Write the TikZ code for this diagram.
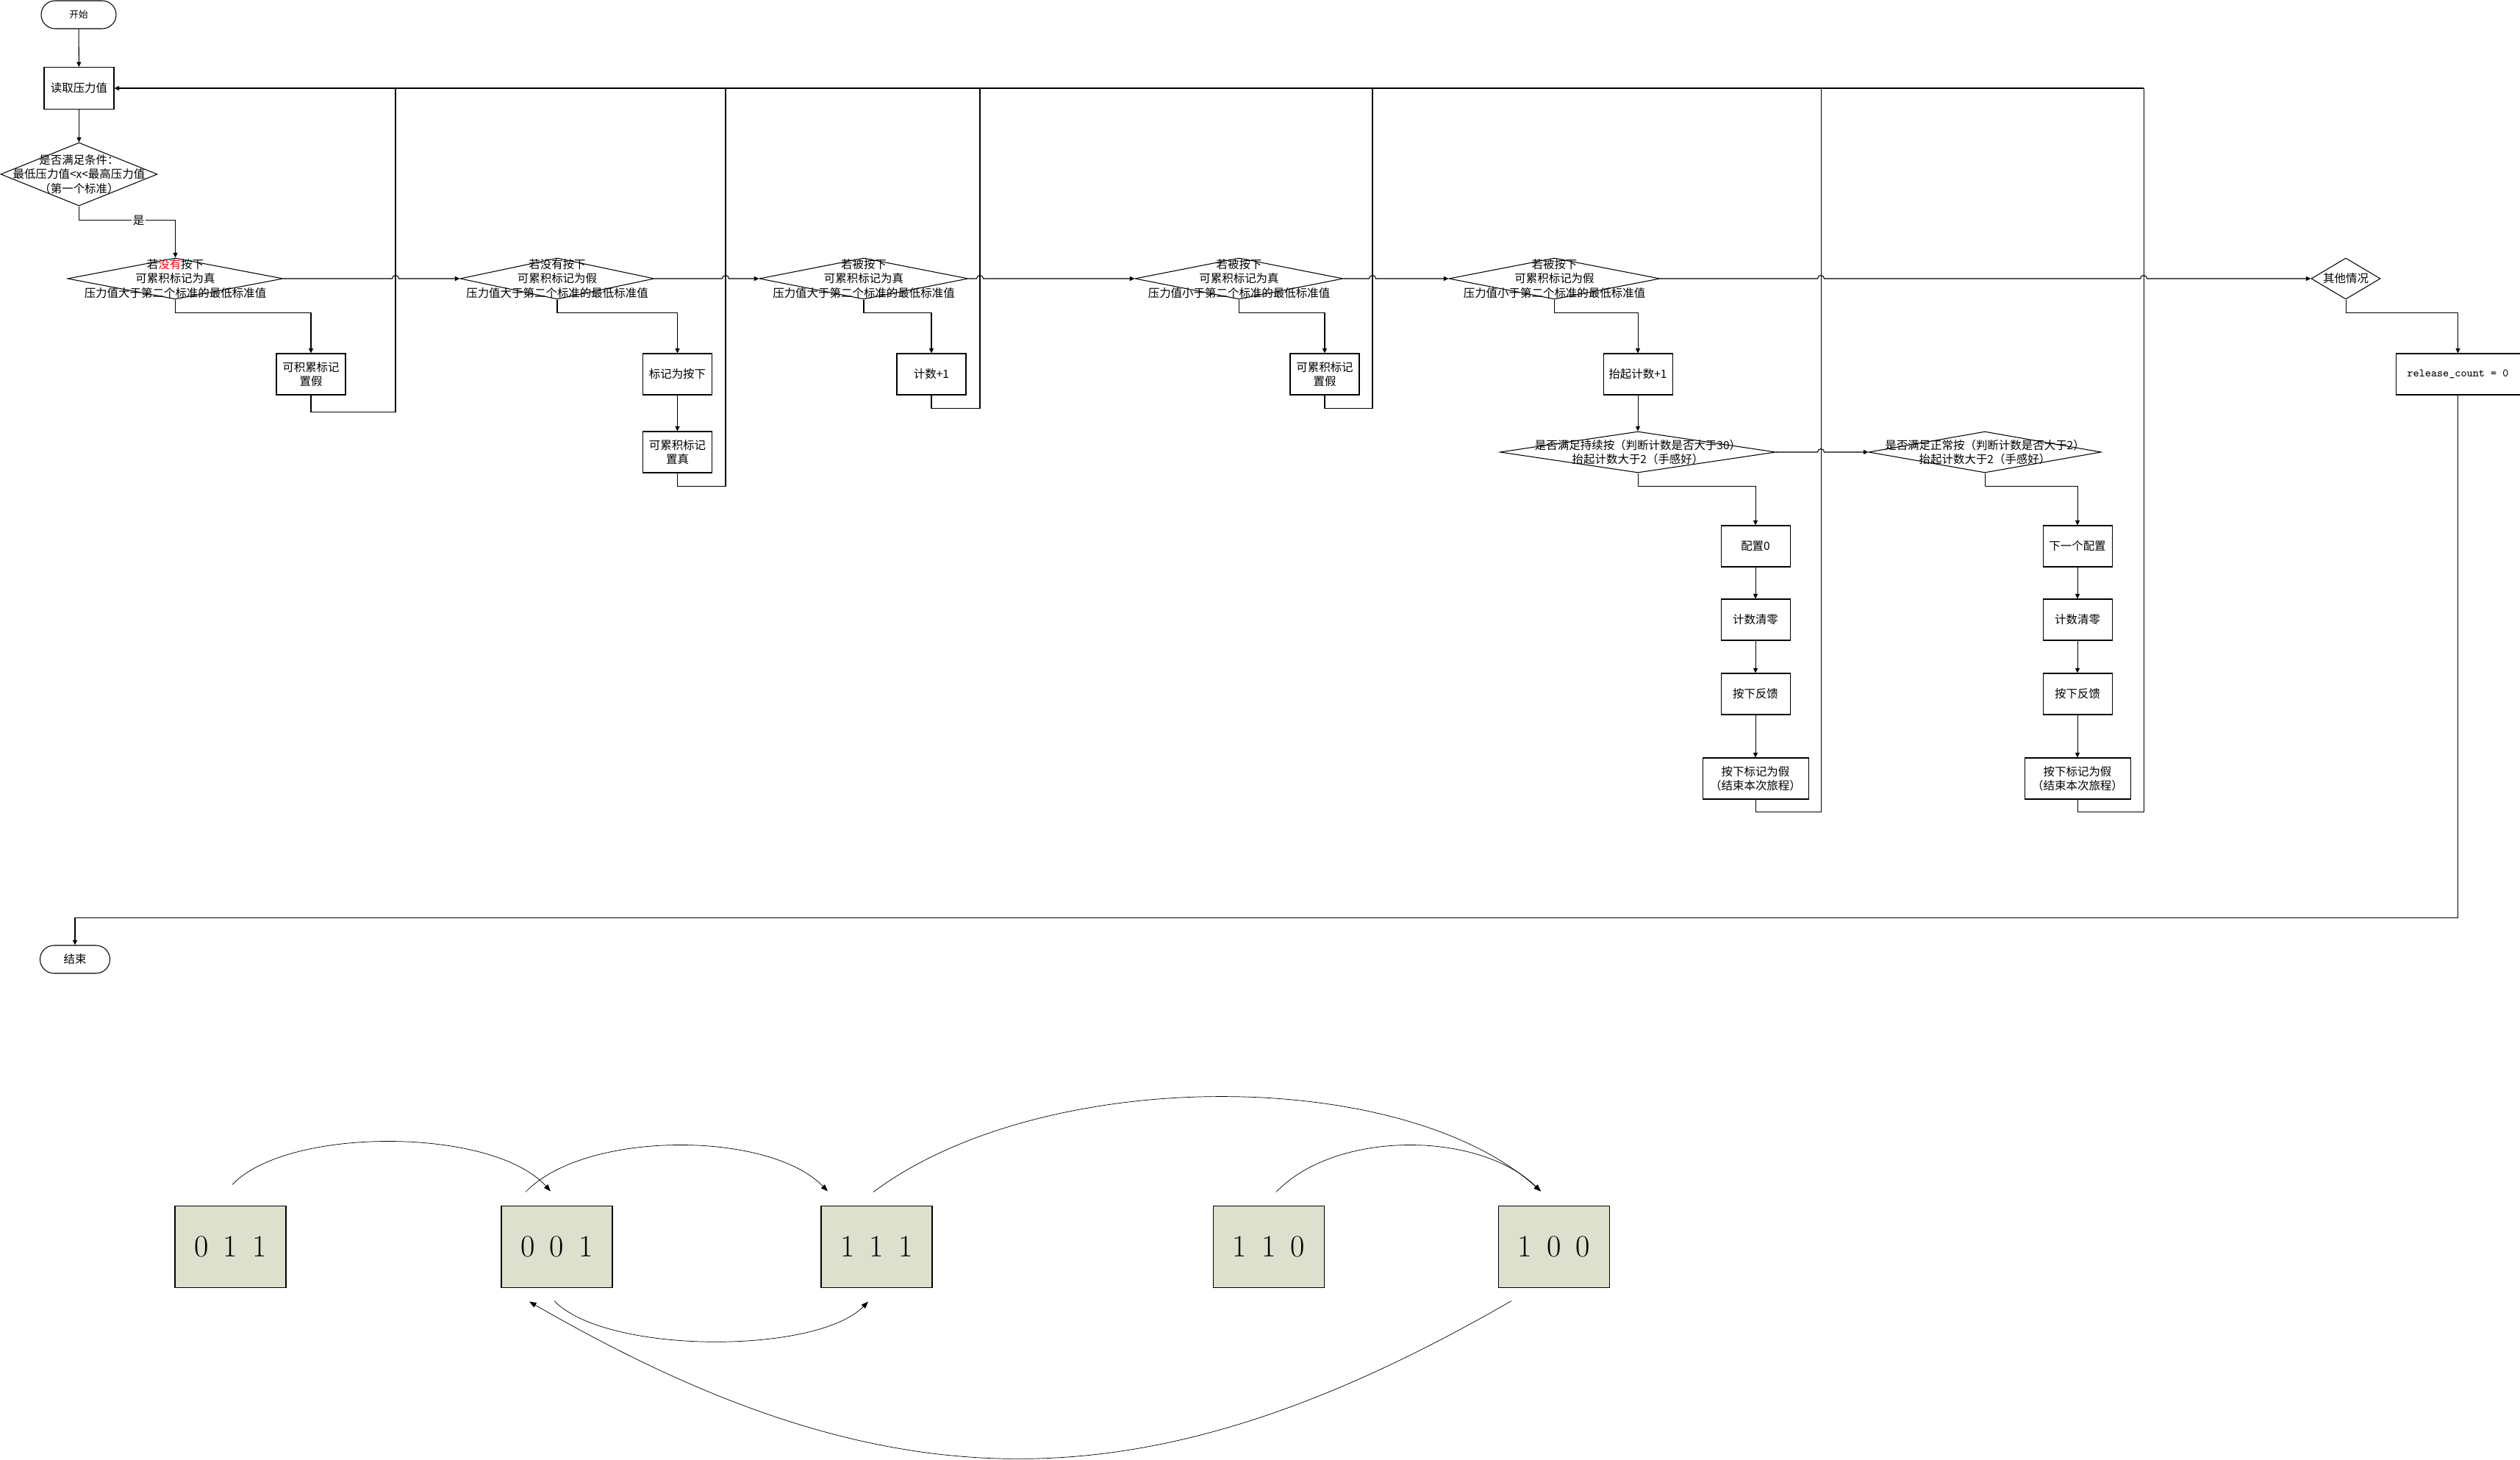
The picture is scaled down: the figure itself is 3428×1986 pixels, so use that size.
\documentclass[tikz,border=0pt]{standalone}
\usepackage{fontspec}
\newfontfamily\cjk{Noto Sans CJK SC}
\usetikzlibrary{positioning, calc, arrows.meta, shapes.geometric}
\definecolor{bitfill}{RGB}{221,224,204}
\newcommand{\bits}[3]{#1\hspace{4mm}#2\hspace{4mm}#3}
\tikzset{every picture/.append style={line width=0.6pt}}
\tikzset{
  cjktext/.style={font=\cjk\fontsize{8.8pt}{11pt}\selectfont},
  proc/.style={draw, rectangle, cjktext, align=center, minimum width=18.8mm, minimum height=11.2mm, inner sep=1pt},
  term/.style={draw, rectangle, rounded corners=3.8mm, cjktext, minimum width=19mm, minimum height=7.6mm},
  dec/.style={draw, diamond, inner sep=0pt, minimum width=#1, minimum height=11.2mm},
  dtext/.style={cjktext, align=center},
  flow/.style={-{Triangle[length=1.3mm, width=1.2mm]}},
  bitbox/.style={draw, fill=bitfill, minimum width=30.2mm, minimum height=22.2mm, font=\fontsize{24pt}{28pt}\selectfont},
  trans/.style={line width=0.4pt, -{Triangle[length=1.9mm, width=1.4mm]}},
}

\begin{document}
\begin{tikzpicture}[x=0.2mm, y=0.2mm]
  \useasboundingbox (0,0) rectangle (3428,-1986);

  % Start and first test
  \node[term, font=\cjk\fontsize{7.2pt}{9pt}\selectfont, minimum width=20.4mm] (start) at (107,-20) {开始};
  \node[proc, minimum width=19mm, minimum height=11.4mm] (read) at (107.5,-120) {读取压力值};
  \node[dec=42.6mm, minimum height=17.2mm, label={[dtext]center:是否满足条件：\\最低压力值<x<最高压力值\\（第一个标准）}] (d1) at (107.5,-237) {};

  % Chain of decisions
  \node[dec=58.6mm, label={[dtext]center:若{\color{red}没有}按下\\可累积标记为真\\压力值大于第二个标准的最低标准值}] (d2) at (238.5,-379) {};
  \node[dec=52.8mm, label={[dtext]center:若没有按下\\可累积标记为假\\压力值大于第二个标准的最低标准值}] (d3) at (758,-379) {};
  \node[dec=56.8mm, label={[dtext]center:若被按下\\可累积标记为真\\压力值大于第二个标准的最低标准值}] (d4) at (1175,-379) {};
  \node[dec=56.6mm, label={[dtext]center:若被按下\\可累积标记为真\\压力值小于第二个标准的最低标准值}] (d5) at (1685.5,-379) {};
  \node[dec=57.4mm, label={[dtext]center:若被按下\\可累积标记为假\\压力值小于第二个标准的最低标准值}] (d6) at (2114.5,-379) {};
  \node[dec=18.8mm, label={[dtext]center:其他情况}] (d9) at (3191,-379) {};

  % Actions under each decision
  \node[proc] (a1) at (423,-509) {可积累标记\\置假};
  \node[proc] (b1) at (921.5,-509) {标记为按下};
  \node[proc] (b2) at (921.5,-615) {可累积标记\\置真};
  \node[proc] (c1) at (1267,-509) {计数+1};
  \node[proc] (e1) at (1802,-509) {可累积标记\\置假};
  \node[proc] (f1) at (2228,-509) {抬起计数+1};
  \node[proc, minimum width=33.8mm, font=\ttfamily\fontsize{8.8pt}{11pt}\selectfont] (rel) at (3343.5,-509) {release\_count = 0};

  % Release tests
  \node[dec=75mm, label={[dtext]center:是否满足持续按（判断计数是否大于30）\\抬起计数大于2（手感好）}] (d7) at (2228,-615) {};
  \node[dec=63.2mm, label={[dtext]center:是否满足正常按（判断计数是否大于2）\\抬起计数大于2（手感好）}] (d8) at (2700,-615) {};

  \node[proc] (g1) at (2388,-743) {配置0};
  \node[proc] (g2) at (2388,-843) {计数清零};
  \node[proc] (g3) at (2388,-944) {按下反馈};
  \node[proc, minimum width=28.8mm] (g4) at (2388,-1059) {按下标记为假\\（结束本次旅程）};
  \node[proc] (h1) at (2826,-743) {下一个配置};
  \node[proc] (h2) at (2826,-843) {计数清零};
  \node[proc] (h3) at (2826,-944) {按下反馈};
  \node[proc, minimum width=28.8mm] (h4) at (2826,-1059) {按下标记为假\\（结束本次旅程）};

  \node[term] (end) at (102,-1305) {结束};

  % Loop-back columns
  \coordinate (fb1) at (538,-120);
  \coordinate (fb2) at (987,-120);
  \coordinate (fb3) at (1333,-120);
  \coordinate (fb4) at (1867,-120);
  \coordinate (fb5) at (2477,-120);
  \coordinate (fb6) at (2916,-120);

  % Connectors
  \draw[flow] (start) -- (read);
  \draw[flow] (read) -- (d1);
  \draw[flow] (d1.south) -- ++(0,-19) -| node[pos=0.31, fill=white, inner sep=1pt, cjktext] {是} (d2.north);

  \draw[flow] (d2.south) -- ++(0,-18) -| (a1.north);
  \draw (a1.south) -- ++(0,-23) -| (fb1);
  \draw[flow] (d2.east) -- ($(fb1|-d2.east)+(-4.5,0)$) arc[start angle=180, end angle=0, radius=4.5] -- (d3.west);

  \draw[flow] (d3.south) -- ++(0,-18) -| (b1.north);
  \draw[flow] (b1) -- (b2);
  \draw (b2.south) -- ++(0,-18) -| (fb2);
  \draw[flow] (d3.east) -- ($(fb2|-d3.east)+(-4.5,0)$) arc[start angle=180, end angle=0, radius=4.5] -- (d4.west);

  \draw[flow] (d4.south) -- ++(0,-18) -| (c1.north);
  \draw (c1.south) -- ++(0,-18) -| (fb3);
  \draw[flow] (d4.east) -- ($(fb3|-d4.east)+(-4.5,0)$) arc[start angle=180, end angle=0, radius=4.5] -- (d5.west);

  \draw[flow] (d5.south) -- ++(0,-18) -| (e1.north);
  \draw (e1.south) -- ++(0,-18) -| (fb4);
  \draw[flow] (d5.east) -- ($(fb4|-d5.east)+(-4.5,0)$) arc[start angle=180, end angle=0, radius=4.5] -- (d6.west);

  \draw[flow] (d6.south) -- ++(0,-18) -| (f1.north);
  \draw[flow] (f1) -- (d7);
  \draw[flow] (d7.south) -- ++(0,-18) -| (g1.north);
  \draw[flow] (g1) -- (g2);
  \draw[flow] (g2) -- (g3);
  \draw[flow] (g3) -- (g4);
  \draw (g4.south) -- ++(0,-17) -| (fb5);
  \draw[flow] (d7.east) -- ($(fb5|-d7.east)+(-4.5,0)$) arc[start angle=180, end angle=0, radius=4.5] -- (d8.west);

  \draw[flow] (d8.south) -- ++(0,-18) -| (h1.north);
  \draw[flow] (h1) -- (h2);
  \draw[flow] (h2) -- (h3);
  \draw[flow] (h3) -- (h4);
  \draw (h4.south) -- ++(0,-17) -| (fb6);

  \draw[flow] (d6.east) -- ($(fb5|-d6.east)+(-4.5,0)$) arc[start angle=180, end angle=0, radius=4.5]
    -- ($(fb6|-d6.east)+(-4.5,0)$) arc[start angle=180, end angle=0, radius=4.5] -- (d9.west);
  \draw[flow] (d9.south) -- ++(0,-18) -| (rel.north);
  \draw[flow] (rel.south) -- ++(0,-711) -| (end.north);
  \draw[flow] (fb6) -- (read.east);

  % State boxes
  \node[bitbox] (s011) at (313.5,-1696) {\bits011};
  \node[bitbox] (s001) at (757.5,-1696) {\bits001};
  \node[bitbox] (s111) at (1192.5,-1696) {\bits111};
  \node[bitbox] (s110) at (1726,-1696) {\bits110};
  \node[bitbox] (s100) at (2114,-1696) {\bits100};

  % Transitions
  \draw[trans] ($(s011.north)+(2.5,28.5)$) .. controls +(74,79) and +(-79,88) .. ($(s001.north)+(-8.5,19.5)$);
  \draw[trans] ($(s001.north)+(-42.5,18.5)$) .. controls +(80,84) and +(-80,83) .. ($(s111.north)+(-66.5,19.5)$);
  \draw[trans] ($(s111.north)+(-4.5,18.5)$) .. controls +(230,172) and +(-190,171) .. ($(s100.north)+(-18,19.5)$);
  \draw[trans] ($(s110.north)+(10,18.5)$) .. controls +(80,84) and +(-85,83) .. ($(s100.north)+(-18,19.5)$);
  \draw[trans] ($(s001.south)+(-3.5,-17.5)$) .. controls +(70,-73) and +(-70,-72) .. ($(s111.south)+(-11.5,-18.5)$);
  \draw[trans] ($(s100.south)+(-58,-17.5)$) .. controls +(-494,-285) and +(494,-285) .. ($(s001.south)+(-37.5,-18.5)$);
\end{tikzpicture}
\end{document}
